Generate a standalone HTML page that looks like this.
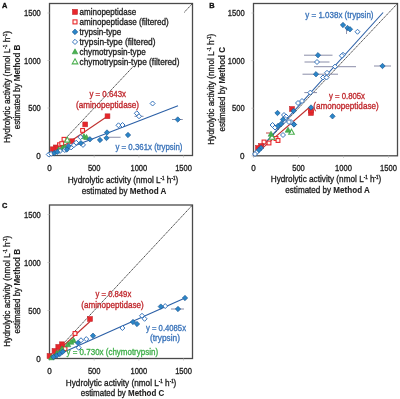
<!DOCTYPE html>
<html><head><meta charset="utf-8"><style>
html,body{margin:0;padding:0;background:#fff;}
svg{display:block;font-family:"Liberation Sans", sans-serif;filter:blur(0.25px);}
</style></head><body>
<svg width="400" height="399" viewBox="0 0 400 399">
<rect width="400" height="399" fill="#fff"/>
<rect x="49.5" y="3.5" width="143.0" height="152.0" fill="#fff" stroke="#4a4a4a" stroke-width="1.3"/>
<line x1="47.5" y1="155.50" x2="49.5" y2="155.50" stroke="#bbb" stroke-width="0.8"/>
<line x1="49.50" y1="155.5" x2="49.50" y2="157.5" stroke="#bbb" stroke-width="0.8"/>
<text x="40.8" y="158.6" font-size="8.6" text-anchor="end" fill="#222" font-weight="normal" textLength="4.5" lengthAdjust="spacingAndGlyphs" stroke="#222" stroke-width="0.32" >0</text>
<text x="49.5" y="170.5" font-size="8.6" text-anchor="middle" fill="#222" font-weight="normal" textLength="4.5" lengthAdjust="spacingAndGlyphs" stroke="#222" stroke-width="0.32" >0</text>
<line x1="47.5" y1="108.00" x2="49.5" y2="108.00" stroke="#bbb" stroke-width="0.8"/>
<line x1="94.19" y1="155.5" x2="94.19" y2="157.5" stroke="#bbb" stroke-width="0.8"/>
<text x="40.8" y="111.1" font-size="8.6" text-anchor="end" fill="#222" font-weight="normal" textLength="12.6" lengthAdjust="spacingAndGlyphs" stroke="#222" stroke-width="0.32" >500</text>
<text x="94.1875" y="170.5" font-size="8.6" text-anchor="middle" fill="#222" font-weight="normal" textLength="12.6" lengthAdjust="spacingAndGlyphs" stroke="#222" stroke-width="0.32" >500</text>
<line x1="47.5" y1="60.50" x2="49.5" y2="60.50" stroke="#bbb" stroke-width="0.8"/>
<line x1="138.88" y1="155.5" x2="138.88" y2="157.5" stroke="#bbb" stroke-width="0.8"/>
<text x="40.8" y="63.6" font-size="8.6" text-anchor="end" fill="#222" font-weight="normal" textLength="16.8" lengthAdjust="spacingAndGlyphs" stroke="#222" stroke-width="0.32" >1000</text>
<text x="138.875" y="170.5" font-size="8.6" text-anchor="middle" fill="#222" font-weight="normal" textLength="16.8" lengthAdjust="spacingAndGlyphs" stroke="#222" stroke-width="0.32" >1000</text>
<line x1="47.5" y1="13.00" x2="49.5" y2="13.00" stroke="#bbb" stroke-width="0.8"/>
<line x1="183.56" y1="155.5" x2="183.56" y2="157.5" stroke="#bbb" stroke-width="0.8"/>
<text x="40.8" y="16.1" font-size="8.6" text-anchor="end" fill="#222" font-weight="normal" textLength="16.8" lengthAdjust="spacingAndGlyphs" stroke="#222" stroke-width="0.32" >1500</text>
<text x="183.5625" y="170.5" font-size="8.6" text-anchor="middle" fill="#222" font-weight="normal" textLength="16.8" lengthAdjust="spacingAndGlyphs" stroke="#222" stroke-width="0.32" >1500</text>
<text x="2.0" y="7.9" font-size="7.4" text-anchor="start" fill="#111" font-weight="bold" stroke="#111" stroke-width="0.32" >A</text>
<text x="122.9" y="183.2" font-size="9.2" text-anchor="middle" fill="#222" stroke="#222" stroke-width="0.32" textLength="110.5" lengthAdjust="spacingAndGlyphs">Hydrolytic activity (nmol L<tspan font-size="5.0" dy="-3">-1</tspan><tspan dy="3"> h</tspan><tspan font-size="5.0" dy="-3">-1</tspan><tspan dy="3">)</tspan></text>
<text x="124.10000000000001" y="193.7" font-size="9.2" text-anchor="middle" fill="#222" stroke="#222" stroke-width="0.32" textLength="84.5" lengthAdjust="spacingAndGlyphs">estimated by <tspan font-weight="bold" stroke-width="0.08">Method A</tspan></text>
<g transform="translate(9.6,86.9) rotate(-90)"><text x="0" y="0" font-size="9.2" text-anchor="middle" fill="#222" stroke="#222" stroke-width="0.32" textLength="112" lengthAdjust="spacingAndGlyphs">Hydrolytic activity (nmol L<tspan font-size="5.0" dy="-3">-1</tspan><tspan dy="3"> h</tspan><tspan font-size="5.0" dy="-3">-1</tspan><tspan dy="3">)</tspan></text></g>
<g transform="translate(20.2,86.9) rotate(-90)"><text x="0" y="0" font-size="9.2" text-anchor="middle" fill="#222" stroke="#222" stroke-width="0.32" textLength="84.5" lengthAdjust="spacingAndGlyphs">estimated by <tspan font-weight="bold" stroke-width="0.08">Method B</tspan></text></g>
<line x1="49.5" y1="155.5" x2="192.5" y2="3.5" stroke="#2a2a2a" stroke-width="0.85" stroke-dasharray="1.6 0.6"/>
<line x1="49.5" y1="155.5" x2="107.5" y2="116.25" stroke="#C0302E" stroke-width="1.1"/>
<line x1="49.5" y1="155.5" x2="178" y2="105.8" stroke="#2B5FA6" stroke-width="1.1"/>
<rect x="70" y="5" width="114" height="61" fill="#fff"/>
<rect x="72.50" y="9.40" width="5" height="5" fill="#E8262B" stroke="#C0282D" stroke-width="0.6"/>
<text x="79.5" y="14.7" font-size="9.0" text-anchor="start" fill="#222" font-weight="normal" textLength="56.75" lengthAdjust="spacingAndGlyphs" stroke="#222" stroke-width="0.32" >aminopeptidase</text>
<rect x="73.00" y="19.90" width="4" height="4" fill="#fff8f0" stroke="#E8262B" stroke-width="1.1"/>
<text x="79.5" y="24.7" font-size="9.0" text-anchor="start" fill="#222" font-weight="normal" textLength="89.25" lengthAdjust="spacingAndGlyphs" stroke="#222" stroke-width="0.32" >aminopeptidase (filtered)</text>
<polygon points="75.00,29.10 77.80,31.90 75.00,34.70 72.20,31.90" fill="#2A86C8" stroke="#1B4F8A" stroke-width="0.6"/>
<text x="79.5" y="34.699999999999996" font-size="9.0" text-anchor="start" fill="#222" font-weight="normal" textLength="41.75" lengthAdjust="spacingAndGlyphs" stroke="#222" stroke-width="0.32" >trypsin-type</text>
<polygon points="75.00,39.30 77.60,41.90 75.00,44.50 72.40,41.90" fill="#fff" stroke="#2D6EB8" stroke-width="0.95"/>
<text x="79.5" y="44.699999999999996" font-size="9.0" text-anchor="start" fill="#222" font-weight="normal" textLength="76" lengthAdjust="spacingAndGlyphs" stroke="#222" stroke-width="0.32" >trypsin-type (filtered)</text>
<polygon points="75.00,48.80 77.80,53.84 72.20,53.84" fill="#4CB050" stroke="#2E9A40" stroke-width="0.6"/>
<text x="79.5" y="54.699999999999996" font-size="9.0" text-anchor="start" fill="#222" font-weight="normal" textLength="66.25" lengthAdjust="spacingAndGlyphs" stroke="#222" stroke-width="0.32" >chymotrypsin-type</text>
<polygon points="75.00,58.80 77.80,63.84 72.20,63.84" fill="#fff" stroke="#4CB050" stroke-width="1.1"/>
<text x="79.5" y="64.7" font-size="9.0" text-anchor="start" fill="#222" font-weight="normal" textLength="100" lengthAdjust="spacingAndGlyphs" stroke="#222" stroke-width="0.32" >chymotrypsin-type (filtered)</text>
<line x1="172" y1="119.5" x2="182.75" y2="119.5" stroke="#8A8DA8" stroke-width="1"/>
<line x1="108.75" y1="137.25" x2="120.6" y2="137.25" stroke="#8A8DA8" stroke-width="1"/>
<line x1="134.5" y1="116.3" x2="143.5" y2="116.3" stroke="#8A8DA8" stroke-width="1"/>
<rect x="80.70" y="128.50" width="3.8" height="3.8" fill="#fff8f0" stroke="#E8262B" stroke-width="1.1"/>
<rect x="62.10" y="137.40" width="3.8" height="3.8" fill="#fff8f0" stroke="#E8262B" stroke-width="1.1"/>
<rect x="57.60" y="142.85" width="3.8" height="3.8" fill="#fff8f0" stroke="#E8262B" stroke-width="1.1"/>
<rect x="59.85" y="141.70" width="3.8" height="3.8" fill="#fff8f0" stroke="#E8262B" stroke-width="1.1"/>
<rect x="105.10" y="113.85" width="4.8" height="4.8" fill="#E8262B" stroke="#C0282D" stroke-width="0.6"/>
<rect x="82.80" y="122.00" width="4.8" height="4.8" fill="#E8262B" stroke="#C0282D" stroke-width="0.6"/>
<rect x="69.60" y="138.80" width="4.8" height="4.8" fill="#E8262B" stroke="#C0282D" stroke-width="0.6"/>
<rect x="53.35" y="145.00" width="4.8" height="4.8" fill="#E8262B" stroke="#C0282D" stroke-width="0.6"/>
<rect x="50.35" y="146.85" width="4.8" height="4.8" fill="#E8262B" stroke="#C0282D" stroke-width="0.6"/>
<polygon points="67.30,137.10 70.10,142.14 64.50,142.14" fill="#fff" stroke="#4CB050" stroke-width="1.1"/>
<polygon points="83.90,133.50 86.70,138.54 81.10,138.54" fill="#4CB050" stroke="#2E9A40" stroke-width="0.6"/>
<polygon points="86.50,134.40 89.30,139.44 83.70,139.44" fill="#4CB050" stroke="#2E9A40" stroke-width="0.6"/>
<polygon points="62.50,144.95 65.30,149.99 59.70,149.99" fill="#4CB050" stroke="#2E9A40" stroke-width="0.6"/>
<polygon points="64.75,144.20 67.55,149.24 61.95,149.24" fill="#4CB050" stroke="#2E9A40" stroke-width="0.6"/>
<polygon points="58.75,146.80 61.55,151.84 55.95,151.84" fill="#4CB050" stroke="#2E9A40" stroke-width="0.6"/>
<polygon points="152.60,101.00 155.10,103.50 152.60,106.00 150.10,103.50" fill="#fff" stroke="#2D6EB8" stroke-width="0.95"/>
<polygon points="136.80,110.80 139.30,113.30 136.80,115.80 134.30,113.30" fill="#fff" stroke="#2D6EB8" stroke-width="0.95"/>
<polygon points="139.00,113.80 141.50,116.30 139.00,118.80 136.50,116.30" fill="#fff" stroke="#2D6EB8" stroke-width="0.95"/>
<polygon points="118.50,122.80 121.00,125.30 118.50,127.80 116.00,125.30" fill="#fff" stroke="#2D6EB8" stroke-width="0.95"/>
<polygon points="122.50,122.50 125.00,125.00 122.50,127.50 120.00,125.00" fill="#fff" stroke="#2D6EB8" stroke-width="0.95"/>
<polygon points="80.50,134.70 83.00,137.20 80.50,139.70 78.00,137.20" fill="#fff" stroke="#2D6EB8" stroke-width="0.95"/>
<polygon points="83.00,142.40 85.50,144.90 83.00,147.40 80.50,144.90" fill="#fff" stroke="#2D6EB8" stroke-width="0.95"/>
<polygon points="76.20,140.20 78.70,142.70 76.20,145.20 73.70,142.70" fill="#fff" stroke="#2D6EB8" stroke-width="0.95"/>
<polygon points="73.70,142.80 76.20,145.30 73.70,147.80 71.20,145.30" fill="#fff" stroke="#2D6EB8" stroke-width="0.95"/>
<polygon points="71.10,144.90 73.60,147.40 71.10,149.90 68.60,147.40" fill="#fff" stroke="#2D6EB8" stroke-width="0.95"/>
<polygon points="64.75,147.50 67.25,150.00 64.75,152.50 62.25,150.00" fill="#fff" stroke="#2D6EB8" stroke-width="0.95"/>
<polygon points="48.75,152.00 51.25,154.50 48.75,157.00 46.25,154.50" fill="#fff" stroke="#2D6EB8" stroke-width="0.95"/>
<polygon points="51.25,151.25 53.75,153.75 51.25,156.25 48.75,153.75" fill="#fff" stroke="#2D6EB8" stroke-width="0.95"/>
<polygon points="60.00,148.50 62.50,151.00 60.00,153.50 57.50,151.00" fill="#fff" stroke="#2D6EB8" stroke-width="0.95"/>
<polygon points="177.75,116.80 180.45,119.50 177.75,122.20 175.05,119.50" fill="#2A86C8" stroke="#1B4F8A" stroke-width="0.6"/>
<polygon points="128.00,132.30 130.70,135.00 128.00,137.70 125.30,135.00" fill="#2A86C8" stroke="#1B4F8A" stroke-width="0.6"/>
<polygon points="107.00,129.80 109.70,132.50 107.00,135.20 104.30,132.50" fill="#2A86C8" stroke="#1B4F8A" stroke-width="0.6"/>
<polygon points="106.50,135.30 109.20,138.00 106.50,140.70 103.80,138.00" fill="#2A86C8" stroke="#1B4F8A" stroke-width="0.6"/>
<polygon points="100.00,137.30 102.70,140.00 100.00,142.70 97.30,140.00" fill="#2A86C8" stroke="#1B4F8A" stroke-width="0.6"/>
<polygon points="89.90,136.60 92.60,139.30 89.90,142.00 87.20,139.30" fill="#2A86C8" stroke="#1B4F8A" stroke-width="0.6"/>
<polygon points="80.90,140.40 83.60,143.10 80.90,145.80 78.20,143.10" fill="#2A86C8" stroke="#1B4F8A" stroke-width="0.6"/>
<polygon points="68.60,143.40 71.30,146.10 68.60,148.80 65.90,146.10" fill="#2A86C8" stroke="#1B4F8A" stroke-width="0.6"/>
<polygon points="66.90,146.80 69.60,149.50 66.90,152.20 64.20,149.50" fill="#2A86C8" stroke="#1B4F8A" stroke-width="0.6"/>
<polygon points="54.25,150.30 56.95,153.00 54.25,155.70 51.55,153.00" fill="#2A86C8" stroke="#1B4F8A" stroke-width="0.6"/>
<polygon points="57.25,149.20 59.95,151.90 57.25,154.60 54.55,151.90" fill="#2A86C8" stroke="#1B4F8A" stroke-width="0.6"/>
<text x="107.7" y="97.2" font-size="8.6" text-anchor="middle" fill="#C0282D" font-weight="normal" textLength="36.6" lengthAdjust="spacingAndGlyphs" stroke="#C0282D" stroke-width="0.32" >y = 0.643x</text>
<text x="107.5" y="107.8" font-size="8.6" text-anchor="middle" fill="#C0282D" font-weight="normal" textLength="63" lengthAdjust="spacingAndGlyphs" stroke="#C0282D" stroke-width="0.32" >(aminopeptidase)</text>
<text x="149" y="149.6" font-size="8.6" text-anchor="middle" fill="#3B74BA" font-weight="normal" textLength="67" lengthAdjust="spacingAndGlyphs" stroke="#3B74BA" stroke-width="0.32" >y = 0.361x (trypsin)</text>
<rect x="253.5" y="3.5" width="144.0" height="152.3" fill="#fff" stroke="#4a4a4a" stroke-width="1.3"/>
<line x1="251.5" y1="155.80" x2="253.5" y2="155.80" stroke="#bbb" stroke-width="0.8"/>
<line x1="253.50" y1="155.8" x2="253.50" y2="157.8" stroke="#bbb" stroke-width="0.8"/>
<text x="244.6" y="158.9" font-size="8.6" text-anchor="end" fill="#222" font-weight="normal" textLength="4.5" lengthAdjust="spacingAndGlyphs" stroke="#222" stroke-width="0.32" >0</text>
<text x="253.5" y="170.6" font-size="8.6" text-anchor="middle" fill="#222" font-weight="normal" textLength="4.5" lengthAdjust="spacingAndGlyphs" stroke="#222" stroke-width="0.32" >0</text>
<line x1="251.5" y1="108.21" x2="253.5" y2="108.21" stroke="#bbb" stroke-width="0.8"/>
<line x1="298.50" y1="155.8" x2="298.50" y2="157.8" stroke="#bbb" stroke-width="0.8"/>
<text x="244.6" y="111.30625" font-size="8.6" text-anchor="end" fill="#222" font-weight="normal" textLength="12.6" lengthAdjust="spacingAndGlyphs" stroke="#222" stroke-width="0.32" >500</text>
<text x="298.5" y="170.6" font-size="8.6" text-anchor="middle" fill="#222" font-weight="normal" textLength="12.6" lengthAdjust="spacingAndGlyphs" stroke="#222" stroke-width="0.32" >500</text>
<line x1="251.5" y1="60.61" x2="253.5" y2="60.61" stroke="#bbb" stroke-width="0.8"/>
<line x1="343.50" y1="155.8" x2="343.50" y2="157.8" stroke="#bbb" stroke-width="0.8"/>
<text x="244.6" y="63.71250000000001" font-size="8.6" text-anchor="end" fill="#222" font-weight="normal" textLength="16.8" lengthAdjust="spacingAndGlyphs" stroke="#222" stroke-width="0.32" >1000</text>
<text x="343.5" y="170.6" font-size="8.6" text-anchor="middle" fill="#222" font-weight="normal" textLength="16.8" lengthAdjust="spacingAndGlyphs" stroke="#222" stroke-width="0.32" >1000</text>
<line x1="251.5" y1="13.02" x2="253.5" y2="13.02" stroke="#bbb" stroke-width="0.8"/>
<line x1="388.50" y1="155.8" x2="388.50" y2="157.8" stroke="#bbb" stroke-width="0.8"/>
<text x="244.6" y="16.118749999999984" font-size="8.6" text-anchor="end" fill="#222" font-weight="normal" textLength="16.8" lengthAdjust="spacingAndGlyphs" stroke="#222" stroke-width="0.32" >1500</text>
<text x="388.5" y="170.6" font-size="8.6" text-anchor="middle" fill="#222" font-weight="normal" textLength="16.8" lengthAdjust="spacingAndGlyphs" stroke="#222" stroke-width="0.32" >1500</text>
<text x="209.2" y="7.9" font-size="7.4" text-anchor="start" fill="#111" font-weight="bold" stroke="#111" stroke-width="0.32" >B</text>
<text x="326" y="182" font-size="9.2" text-anchor="middle" fill="#222" stroke="#222" stroke-width="0.32" textLength="110.5" lengthAdjust="spacingAndGlyphs">Hydrolytic activity (nmol L<tspan font-size="5.0" dy="-3">-1</tspan><tspan dy="3"> h</tspan><tspan font-size="5.0" dy="-3">-1</tspan><tspan dy="3">)</tspan></text>
<text x="327.6" y="192.7" font-size="9.2" text-anchor="middle" fill="#222" stroke="#222" stroke-width="0.32" textLength="84.5" lengthAdjust="spacingAndGlyphs">estimated by <tspan font-weight="bold" stroke-width="0.08">Method A</tspan></text>
<g transform="translate(213.6,89.2) rotate(-90)"><text x="0" y="0" font-size="9.2" text-anchor="middle" fill="#222" stroke="#222" stroke-width="0.32" textLength="111" lengthAdjust="spacingAndGlyphs">Hydrolytic activity (nmol L<tspan font-size="5.0" dy="-3">-1</tspan><tspan dy="3"> h</tspan><tspan font-size="5.0" dy="-3">-1</tspan><tspan dy="3">)</tspan></text></g>
<g transform="translate(224.6,89.2) rotate(-90)"><text x="0" y="0" font-size="9.2" text-anchor="middle" fill="#222" stroke="#222" stroke-width="0.32" textLength="84.5" lengthAdjust="spacingAndGlyphs">estimated by <tspan font-weight="bold" stroke-width="0.08">Method C</tspan></text></g>
<line x1="253.5" y1="155.8" x2="397.5" y2="3.5" stroke="#2a2a2a" stroke-width="0.85" stroke-dasharray="1.6 0.6"/>
<line x1="253.5" y1="155.8" x2="311" y2="106" stroke="#C0302E" stroke-width="1.1"/>
<line x1="253.5" y1="155.8" x2="383.1" y2="12.5" stroke="#2B5FA6" stroke-width="1.1"/>
<line x1="346.5" y1="28" x2="346.5" y2="34" stroke="#8A8DA8" stroke-width="0.9"/>
<line x1="266" y1="133" x2="270" y2="133" stroke="#C0302E" stroke-width="0.9"/>
<line x1="304" y1="55.2" x2="332.5" y2="55.2" stroke="#8A8DA8" stroke-width="1"/>
<line x1="304.5" y1="62" x2="329.5" y2="62" stroke="#8A8DA8" stroke-width="1"/>
<line x1="314" y1="66.7" x2="356" y2="66.7" stroke="#8A8DA8" stroke-width="1"/>
<line x1="302.5" y1="74.2" x2="338" y2="74.2" stroke="#8A8DA8" stroke-width="1"/>
<line x1="304.3" y1="92.6" x2="317" y2="92.6" stroke="#8A8DA8" stroke-width="1"/>
<line x1="374" y1="66" x2="391" y2="66" stroke="#8A8DA8" stroke-width="1"/>
<rect x="274.10" y="136.60" width="3.8" height="3.8" fill="#fff8f0" stroke="#E8262B" stroke-width="1.1"/>
<rect x="276.10" y="138.60" width="3.8" height="3.8" fill="#fff8f0" stroke="#E8262B" stroke-width="1.1"/>
<rect x="267.10" y="141.10" width="3.8" height="3.8" fill="#fff8f0" stroke="#E8262B" stroke-width="1.1"/>
<rect x="262.10" y="140.10" width="3.8" height="3.8" fill="#fff8f0" stroke="#E8262B" stroke-width="1.1"/>
<rect x="289.60" y="106.60" width="4.8" height="4.8" fill="#E8262B" stroke="#C0282D" stroke-width="0.6"/>
<rect x="308.60" y="110.60" width="4.8" height="4.8" fill="#E8262B" stroke="#C0282D" stroke-width="0.6"/>
<rect x="308.60" y="108.10" width="4.8" height="4.8" fill="#E8262B" stroke="#C0282D" stroke-width="0.6"/>
<rect x="258.60" y="143.60" width="4.8" height="4.8" fill="#E8262B" stroke="#C0282D" stroke-width="0.6"/>
<rect x="255.60" y="145.60" width="4.8" height="4.8" fill="#E8262B" stroke="#C0282D" stroke-width="0.6"/>
<polygon points="291.50,129.20 294.30,134.24 288.70,134.24" fill="#fff" stroke="#4CB050" stroke-width="1.1"/>
<polygon points="272.00,134.20 274.80,139.24 269.20,139.24" fill="#fff" stroke="#4CB050" stroke-width="1.1"/>
<polygon points="288.00,127.20 290.80,132.24 285.20,132.24" fill="#4CB050" stroke="#2E9A40" stroke-width="0.6"/>
<polygon points="271.00,131.20 273.80,136.24 268.20,136.24" fill="#4CB050" stroke="#2E9A40" stroke-width="0.6"/>
<polygon points="357.50,29.25 360.00,31.75 357.50,34.25 355.00,31.75" fill="#fff" stroke="#2D6EB8" stroke-width="0.95"/>
<polygon points="343.00,52.25 345.50,54.75 343.00,57.25 340.50,54.75" fill="#fff" stroke="#2D6EB8" stroke-width="0.95"/>
<polygon points="341.90,53.30 344.40,55.80 341.90,58.30 339.40,55.80" fill="#fff" stroke="#2D6EB8" stroke-width="0.95"/>
<polygon points="317.00,59.50 319.50,62.00 317.00,64.50 314.50,62.00" fill="#fff" stroke="#2D6EB8" stroke-width="0.95"/>
<polygon points="335.00,64.10 337.50,66.60 335.00,69.10 332.50,66.60" fill="#fff" stroke="#2D6EB8" stroke-width="0.95"/>
<polygon points="327.00,70.30 329.50,72.80 327.00,75.30 324.50,72.80" fill="#fff" stroke="#2D6EB8" stroke-width="0.95"/>
<polygon points="323.00,75.00 325.50,77.50 323.00,80.00 320.50,77.50" fill="#fff" stroke="#2D6EB8" stroke-width="0.95"/>
<polygon points="326.50,75.00 329.00,77.50 326.50,80.00 324.00,77.50" fill="#fff" stroke="#2D6EB8" stroke-width="0.95"/>
<polygon points="310.30,90.10 312.80,92.60 310.30,95.10 307.80,92.60" fill="#fff" stroke="#2D6EB8" stroke-width="0.95"/>
<polygon points="298.00,100.50 300.50,103.00 298.00,105.50 295.50,103.00" fill="#fff" stroke="#2D6EB8" stroke-width="0.95"/>
<polygon points="302.00,98.50 304.50,101.00 302.00,103.50 299.50,101.00" fill="#fff" stroke="#2D6EB8" stroke-width="0.95"/>
<polygon points="284.00,112.50 286.50,115.00 284.00,117.50 281.50,115.00" fill="#fff" stroke="#2D6EB8" stroke-width="0.95"/>
<polygon points="286.00,114.00 288.50,116.50 286.00,119.00 283.50,116.50" fill="#fff" stroke="#2D6EB8" stroke-width="0.95"/>
<polygon points="285.00,116.50 287.50,119.00 285.00,121.50 282.50,119.00" fill="#fff" stroke="#2D6EB8" stroke-width="0.95"/>
<polygon points="291.00,119.50 293.50,122.00 291.00,124.50 288.50,122.00" fill="#fff" stroke="#2D6EB8" stroke-width="0.95"/>
<polygon points="294.00,122.00 296.50,124.50 294.00,127.00 291.50,124.50" fill="#fff" stroke="#2D6EB8" stroke-width="0.95"/>
<polygon points="284.00,118.50 286.50,121.00 284.00,123.50 281.50,121.00" fill="#fff" stroke="#2D6EB8" stroke-width="0.95"/>
<polygon points="289.00,119.50 291.50,122.00 289.00,124.50 286.50,122.00" fill="#fff" stroke="#2D6EB8" stroke-width="0.95"/>
<polygon points="272.50,122.50 275.00,125.00 272.50,127.50 270.00,125.00" fill="#fff" stroke="#2D6EB8" stroke-width="0.95"/>
<polygon points="275.00,125.00 277.50,127.50 275.00,130.00 272.50,127.50" fill="#fff" stroke="#2D6EB8" stroke-width="0.95"/>
<polygon points="283.00,132.50 285.50,135.00 283.00,137.50 280.50,135.00" fill="#fff" stroke="#2D6EB8" stroke-width="0.95"/>
<polygon points="257.00,149.50 259.50,152.00 257.00,154.50 254.50,152.00" fill="#fff" stroke="#2D6EB8" stroke-width="0.95"/>
<polygon points="255.00,151.50 257.50,154.00 255.00,156.50 252.50,154.00" fill="#fff" stroke="#2D6EB8" stroke-width="0.95"/>
<polygon points="343.00,22.30 345.70,25.00 343.00,27.70 340.30,25.00" fill="#2A86C8" stroke="#1B4F8A" stroke-width="0.6"/>
<polygon points="347.50,25.30 350.20,28.00 347.50,30.70 344.80,28.00" fill="#2A86C8" stroke="#1B4F8A" stroke-width="0.6"/>
<polygon points="350.00,26.55 352.70,29.25 350.00,31.95 347.30,29.25" fill="#2A86C8" stroke="#1B4F8A" stroke-width="0.6"/>
<polygon points="318.00,52.50 320.70,55.20 318.00,57.90 315.30,55.20" fill="#2A86C8" stroke="#1B4F8A" stroke-width="0.6"/>
<polygon points="316.00,71.50 318.70,74.20 316.00,76.90 313.30,74.20" fill="#2A86C8" stroke="#1B4F8A" stroke-width="0.6"/>
<polygon points="382.50,63.30 385.20,66.00 382.50,68.70 379.80,66.00" fill="#2A86C8" stroke="#1B4F8A" stroke-width="0.6"/>
<polygon points="293.50,108.30 296.20,111.00 293.50,113.70 290.80,111.00" fill="#2A86C8" stroke="#1B4F8A" stroke-width="0.6"/>
<polygon points="311.00,104.80 313.70,107.50 311.00,110.20 308.30,107.50" fill="#2A86C8" stroke="#1B4F8A" stroke-width="0.6"/>
<polygon points="277.50,110.30 280.20,113.00 277.50,115.70 274.80,113.00" fill="#2A86C8" stroke="#1B4F8A" stroke-width="0.6"/>
<polygon points="283.00,116.80 285.70,119.50 283.00,122.20 280.30,119.50" fill="#2A86C8" stroke="#1B4F8A" stroke-width="0.6"/>
<polygon points="294.00,121.80 296.70,124.50 294.00,127.20 291.30,124.50" fill="#2A86C8" stroke="#1B4F8A" stroke-width="0.6"/>
<polygon points="278.00,123.30 280.70,126.00 278.00,128.70 275.30,126.00" fill="#2A86C8" stroke="#1B4F8A" stroke-width="0.6"/>
<polygon points="281.00,121.30 283.70,124.00 281.00,126.70 278.30,124.00" fill="#2A86C8" stroke="#1B4F8A" stroke-width="0.6"/>
<polygon points="332.50,113.60 335.20,116.30 332.50,119.00 329.80,116.30" fill="#2A86C8" stroke="#1B4F8A" stroke-width="0.6"/>
<polygon points="261.00,145.30 263.70,148.00 261.00,150.70 258.30,148.00" fill="#2A86C8" stroke="#1B4F8A" stroke-width="0.6"/>
<polygon points="259.00,147.30 261.70,150.00 259.00,152.70 256.30,150.00" fill="#2A86C8" stroke="#1B4F8A" stroke-width="0.6"/>
<text x="339.4" y="17.5" font-size="8.6" text-anchor="middle" fill="#3B74BA" font-weight="normal" textLength="68.2" lengthAdjust="spacingAndGlyphs" stroke="#3B74BA" stroke-width="0.32" >y = 1.038x (trypsin)</text>
<text x="347" y="99" font-size="8.6" text-anchor="middle" fill="#C0282D" font-weight="normal" textLength="36" lengthAdjust="spacingAndGlyphs" stroke="#C0282D" stroke-width="0.32" >y = 0.805x</text>
<text x="346" y="109.3" font-size="8.6" text-anchor="middle" fill="#C0282D" font-weight="normal" textLength="65.3" lengthAdjust="spacingAndGlyphs" stroke="#C0282D" stroke-width="0.32" >(amonopeptidase)</text>
<rect x="49.5" y="205.0" width="143.0" height="153.5" fill="#fff" stroke="#4a4a4a" stroke-width="1.3"/>
<line x1="47.5" y1="358.50" x2="49.5" y2="358.50" stroke="#bbb" stroke-width="0.8"/>
<line x1="49.50" y1="358.5" x2="49.50" y2="360.5" stroke="#bbb" stroke-width="0.8"/>
<text x="40.8" y="361.6" font-size="8.6" text-anchor="end" fill="#222" font-weight="normal" textLength="4.5" lengthAdjust="spacingAndGlyphs" stroke="#222" stroke-width="0.32" >0</text>
<text x="49.5" y="373.7" font-size="8.6" text-anchor="middle" fill="#222" font-weight="normal" textLength="4.5" lengthAdjust="spacingAndGlyphs" stroke="#222" stroke-width="0.32" >0</text>
<line x1="47.5" y1="310.53" x2="49.5" y2="310.53" stroke="#bbb" stroke-width="0.8"/>
<line x1="94.19" y1="358.5" x2="94.19" y2="360.5" stroke="#bbb" stroke-width="0.8"/>
<text x="40.8" y="313.63125" font-size="8.6" text-anchor="end" fill="#222" font-weight="normal" textLength="12.6" lengthAdjust="spacingAndGlyphs" stroke="#222" stroke-width="0.32" >500</text>
<text x="94.1875" y="373.7" font-size="8.6" text-anchor="middle" fill="#222" font-weight="normal" textLength="12.6" lengthAdjust="spacingAndGlyphs" stroke="#222" stroke-width="0.32" >500</text>
<line x1="47.5" y1="262.56" x2="49.5" y2="262.56" stroke="#bbb" stroke-width="0.8"/>
<line x1="138.88" y1="358.5" x2="138.88" y2="360.5" stroke="#bbb" stroke-width="0.8"/>
<text x="40.8" y="265.6625" font-size="8.6" text-anchor="end" fill="#222" font-weight="normal" textLength="16.8" lengthAdjust="spacingAndGlyphs" stroke="#222" stroke-width="0.32" >1000</text>
<text x="138.875" y="373.7" font-size="8.6" text-anchor="middle" fill="#222" font-weight="normal" textLength="16.8" lengthAdjust="spacingAndGlyphs" stroke="#222" stroke-width="0.32" >1000</text>
<line x1="47.5" y1="214.59" x2="49.5" y2="214.59" stroke="#bbb" stroke-width="0.8"/>
<line x1="183.56" y1="358.5" x2="183.56" y2="360.5" stroke="#bbb" stroke-width="0.8"/>
<text x="40.8" y="217.69375" font-size="8.6" text-anchor="end" fill="#222" font-weight="normal" textLength="16.8" lengthAdjust="spacingAndGlyphs" stroke="#222" stroke-width="0.32" >1500</text>
<text x="183.5625" y="373.7" font-size="8.6" text-anchor="middle" fill="#222" font-weight="normal" textLength="16.8" lengthAdjust="spacingAndGlyphs" stroke="#222" stroke-width="0.32" >1500</text>
<text x="2.0" y="208.2" font-size="7.4" text-anchor="start" fill="#111" font-weight="bold" stroke="#111" stroke-width="0.32" >C</text>
<text x="121.1" y="385.7" font-size="9.2" text-anchor="middle" fill="#222" stroke="#222" stroke-width="0.32" textLength="110.5" lengthAdjust="spacingAndGlyphs">Hydrolytic activity (nmol L<tspan font-size="5.0" dy="-3">-1</tspan><tspan dy="3"> h</tspan><tspan font-size="5.0" dy="-3">-1</tspan><tspan dy="3">)</tspan></text>
<text x="122.5" y="396.1" font-size="9.2" text-anchor="middle" fill="#222" stroke="#222" stroke-width="0.32" textLength="83.5" lengthAdjust="spacingAndGlyphs">estimated by <tspan font-weight="bold" stroke-width="0.08">Method C</tspan></text>
<g transform="translate(10.2,291.2) rotate(-90)"><text x="0" y="0" font-size="9.2" text-anchor="middle" fill="#222" stroke="#222" stroke-width="0.32" textLength="111" lengthAdjust="spacingAndGlyphs">Hydrolytic activity (nmol L<tspan font-size="5.0" dy="-3">-1</tspan><tspan dy="3"> h</tspan><tspan font-size="5.0" dy="-3">-1</tspan><tspan dy="3">)</tspan></text></g>
<g transform="translate(20.4,291.2) rotate(-90)"><text x="0" y="0" font-size="9.2" text-anchor="middle" fill="#222" stroke="#222" stroke-width="0.32" textLength="84.5" lengthAdjust="spacingAndGlyphs">estimated by <tspan font-weight="bold" stroke-width="0.08">Method B</tspan></text></g>
<line x1="49.5" y1="358.5" x2="192.5" y2="205.0" stroke="#2a2a2a" stroke-width="0.85" stroke-dasharray="1.6 0.6"/>
<line x1="49.5" y1="358.5" x2="90" y2="321.5" stroke="#C0302E" stroke-width="1.1"/>
<line x1="49.5" y1="358.5" x2="185" y2="298" stroke="#2B5FA6" stroke-width="1.1"/>
<line x1="49.5" y1="358.5" x2="75" y2="339" stroke="#3FAF4A" stroke-width="1.1"/>
<line x1="171" y1="309" x2="184" y2="309" stroke="#8A8DA8" stroke-width="1"/>
<rect x="73.10" y="331.60" width="3.8" height="3.8" fill="#fff8f0" stroke="#E8262B" stroke-width="1.1"/>
<rect x="63.10" y="346.85" width="3.8" height="3.8" fill="#fff8f0" stroke="#E8262B" stroke-width="1.1"/>
<rect x="87.60" y="316.60" width="4.8" height="4.8" fill="#E8262B" stroke="#C0282D" stroke-width="0.6"/>
<rect x="59.60" y="341.85" width="4.8" height="4.8" fill="#E8262B" stroke="#C0282D" stroke-width="0.6"/>
<rect x="55.85" y="344.50" width="4.8" height="4.8" fill="#E8262B" stroke="#C0282D" stroke-width="0.6"/>
<rect x="52.10" y="348.60" width="4.8" height="4.8" fill="#E8262B" stroke="#C0282D" stroke-width="0.6"/>
<rect x="47.10" y="353.60" width="4.8" height="4.8" fill="#E8262B" stroke="#C0282D" stroke-width="0.6"/>
<polygon points="73.50,337.45 76.30,342.49 70.70,342.49" fill="#4CB050" stroke="#2E9A40" stroke-width="0.6"/>
<polygon points="68.00,341.70 70.80,346.74 65.20,346.74" fill="#4CB050" stroke="#2E9A40" stroke-width="0.6"/>
<polygon points="71.00,339.20 73.80,344.24 68.20,344.24" fill="#4CB050" stroke="#2E9A40" stroke-width="0.6"/>
<polygon points="62.00,345.95 64.80,350.99 59.20,350.99" fill="#4CB050" stroke="#2E9A40" stroke-width="0.6"/>
<polygon points="56.75,350.45 59.55,355.49 53.95,355.49" fill="#4CB050" stroke="#2E9A40" stroke-width="0.6"/>
<polygon points="51.50,354.70 54.30,359.74 48.70,359.74" fill="#4CB050" stroke="#2E9A40" stroke-width="0.6"/>
<polygon points="165.20,303.60 167.70,306.10 165.20,308.60 162.70,306.10" fill="#fff" stroke="#2D6EB8" stroke-width="0.95"/>
<polygon points="142.00,313.25 144.50,315.75 142.00,318.25 139.50,315.75" fill="#fff" stroke="#2D6EB8" stroke-width="0.95"/>
<polygon points="144.60,316.30 147.10,318.80 144.60,321.30 142.10,318.80" fill="#fff" stroke="#2D6EB8" stroke-width="0.95"/>
<polygon points="122.40,325.50 124.90,328.00 122.40,330.50 119.90,328.00" fill="#fff" stroke="#2D6EB8" stroke-width="0.95"/>
<polygon points="81.00,337.75 83.50,340.25 81.00,342.75 78.50,340.25" fill="#fff" stroke="#2D6EB8" stroke-width="0.95"/>
<polygon points="86.25,336.60 88.75,339.10 86.25,341.60 83.75,339.10" fill="#fff" stroke="#2D6EB8" stroke-width="0.95"/>
<polygon points="78.75,345.25 81.25,347.75 78.75,350.25 76.25,347.75" fill="#fff" stroke="#2D6EB8" stroke-width="0.95"/>
<polygon points="185.00,295.30 187.70,298.00 185.00,300.70 182.30,298.00" fill="#2A86C8" stroke="#1B4F8A" stroke-width="0.6"/>
<polygon points="160.80,303.90 163.50,306.60 160.80,309.30 158.10,306.60" fill="#2A86C8" stroke="#1B4F8A" stroke-width="0.6"/>
<polygon points="178.00,306.30 180.70,309.00 178.00,311.70 175.30,309.00" fill="#2A86C8" stroke="#1B4F8A" stroke-width="0.6"/>
<polygon points="133.00,319.30 135.70,322.00 133.00,324.70 130.30,322.00" fill="#2A86C8" stroke="#1B4F8A" stroke-width="0.6"/>
<polygon points="137.00,321.30 139.70,324.00 137.00,326.70 134.30,324.00" fill="#2A86C8" stroke="#1B4F8A" stroke-width="0.6"/>
<polygon points="93.00,333.05 95.70,335.75 93.00,338.45 90.30,335.75" fill="#2A86C8" stroke="#1B4F8A" stroke-width="0.6"/>
<polygon points="78.00,340.20 80.70,342.90 78.00,345.60 75.30,342.90" fill="#2A86C8" stroke="#1B4F8A" stroke-width="0.6"/>
<polygon points="56.75,352.80 59.45,355.50 56.75,358.20 54.05,355.50" fill="#2A86C8" stroke="#1B4F8A" stroke-width="0.6"/>
<polygon points="59.75,351.30 62.45,354.00 59.75,356.70 57.05,354.00" fill="#2A86C8" stroke="#1B4F8A" stroke-width="0.6"/>
<polygon points="62.75,349.05 65.45,351.75 62.75,354.45 60.05,351.75" fill="#2A86C8" stroke="#1B4F8A" stroke-width="0.6"/>
<polygon points="53.50,354.30 56.20,357.00 53.50,359.70 50.80,357.00" fill="#2A86C8" stroke="#1B4F8A" stroke-width="0.6"/>
<text x="113.4" y="297.3" font-size="8.6" text-anchor="middle" fill="#C0282D" font-weight="normal" textLength="35.75" lengthAdjust="spacingAndGlyphs" stroke="#C0282D" stroke-width="0.32" >y = 0.849x</text>
<text x="112.5" y="308.3" font-size="8.6" text-anchor="middle" fill="#C0282D" font-weight="normal" textLength="62.5" lengthAdjust="spacingAndGlyphs" stroke="#C0282D" stroke-width="0.32" >(aminopeptidase)</text>
<text x="166" y="331" font-size="8.6" text-anchor="middle" fill="#3B74BA" font-weight="normal" textLength="40" lengthAdjust="spacingAndGlyphs" stroke="#3B74BA" stroke-width="0.32" >y = 0.4085x</text>
<text x="165" y="340.8" font-size="8.6" text-anchor="middle" fill="#3B74BA" font-weight="normal" textLength="30" lengthAdjust="spacingAndGlyphs" stroke="#3B74BA" stroke-width="0.32" >(trypsin)</text>
<text x="112.3" y="354.5" font-size="8.6" text-anchor="middle" fill="#3FAF4A" font-weight="normal" textLength="91.5" lengthAdjust="spacingAndGlyphs" stroke="#3FAF4A" stroke-width="0.32" >y = 0.730x (chymotrypsin)</text>
</svg>
</body></html>
